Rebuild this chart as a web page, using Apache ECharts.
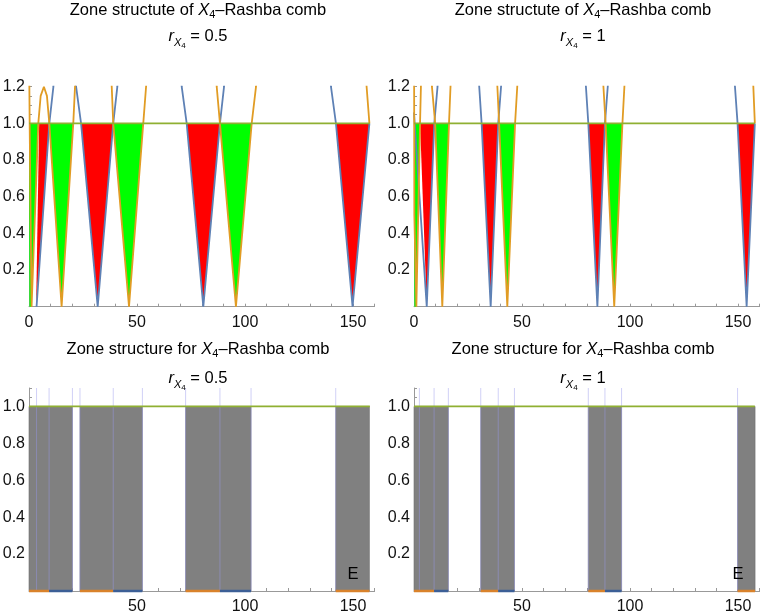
<!DOCTYPE html>
<html lang="en">
<head>
<meta charset="utf-8">
<title>Zone structure of X4-Rashba comb</title>
<script src="https://cdn.jsdelivr.net/npm/echarts@6/dist/echarts.min.js"></script>
<style>
  html, body { margin: 0; padding: 0; background: #fff; }
  #chart { width: 765px; height: 613px; }
</style>
</head>
<body>
<div id="chart"></div>
<script>
// ---------- data ----------
var xMax = 160;

// top left panel, r = 0.5 : curve pieces (blue / orange), filled zones
var blueTL = [
  [[3.5, 0], [9.4, 1], [11.3, 1.2], [11.7, 1.3]],
  [[21.3, 1.3], [21.8, 1.2], [24.1, 1], [31.8, 0], [39.0, 1], [40.9, 1.2], [41.4, 1.3]],
  [[70.2, 1.3], [70.7, 1.2], [73.0, 1], [80.7, 0], [88.4, 1], [90.3, 1.2], [90.8, 1.3]],
  [[139.3, 1.3], [139.8, 1.2], [142.1, 1], [149.8, 0], [157.6, 1]]
];
var orangeTL = [
  [[0.1, 1.3], [0.3, 1], [1.2, 0], [4.3, 1], [5.4, 1.15], [6.9, 1.2], [8.3, 1.15], [9.4, 1], [15.1, 0], [20.5, 1], [21.3, 1.2], [21.6, 1.3]],
  [[37.8, 1.3], [38.3, 1.2], [39.0, 1], [46.3, 0], [52.9, 1], [54.2, 1.2], [54.8, 1.3]],
  [[86.4, 1.3], [86.9, 1.2], [88.4, 1], [95.8, 0], [103.1, 1], [105.1, 1.2], [105.8, 1.3]],
  [[155.8, 1.3], [156.3, 1.2], [157.6, 1]]
];
var redTL = [
  [[4.7, 1], [9.4, 1], [3.3, 0]],
  [[24.1, 1], [39.0, 1], [31.8, 0]],
  [[73.0, 1], [88.4, 1], [80.7, 0]],
  [[142.1, 1], [157.6, 1], [149.8, 0]]
];
var greenTL = [
  [[0, 1], [4.4, 1], [1.2, 0], [0.2, 0]],
  [[9.4, 1], [20.5, 1], [15.1, 0]],
  [[39.0, 1], [52.9, 1], [46.3, 0]],
  [[88.4, 1], [103.1, 1], [95.8, 0]]
];

// top right panel, r = 1
var blueTR = [
  [[0, 1.06], [0.3, 1], [5.9, 0], [9.4, 1], [10.9, 1.2], [11.3, 1.3]],
  [[29.6, 1.3], [30.2, 1.2], [31.3, 1], [35.5, 0], [39.0, 1], [40.3, 1.2], [40.8, 1.3]],
  [[79.1, 1.3], [79.6, 1.2], [80.7, 1], [84.9, 0], [88.4, 1], [89.7, 1.2], [90.2, 1.3]],
  [[148.1, 1.3], [148.6, 1.2], [149.8, 1], [154.0, 0], [157.8, 1]]
];
var orangeTR = [
  [[0.05, 1.3], [0.15, 0.5], [1.1, 0], [2.8, 1], [3.2, 1.2], [3.4, 1.3]],
  [[7.8, 1.3], [8.3, 1.2], [9.8, 1], [13.1, 0], [16.2, 1], [16.9, 1.2], [17.2, 1.3]],
  [[38.1, 1.3], [38.6, 1.2], [39.4, 1], [43.2, 0], [46.8, 1], [47.8, 1.2], [48.2, 1.3]],
  [[87.2, 1.3], [87.7, 1.2], [88.7, 1], [92.7, 0], [96.5, 1], [97.4, 1.2], [97.8, 1.3]],
  [[156.7, 1.3], [157.1, 1.2], [157.8, 1]]
];
var redTR = [
  [[2.8, 1], [9.4, 1], [5.9, 0]],
  [[31.3, 1], [39.0, 1], [35.5, 0]],
  [[80.7, 1], [88.4, 1], [84.9, 0]],
  [[149.8, 1], [157.8, 1], [154.0, 0]]
];
var greenTR = [
  [[0, 1], [2.8, 1], [1.1, 0], [0.2, 0]],
  [[9.8, 1], [16.2, 1], [13.1, 0]],
  [[39.4, 1], [46.8, 1], [43.2, 0]],
  [[88.7, 1], [96.5, 1], [92.7, 0]]
];

// bottom panels: allowed bands, band edges, coloured pieces on the E axis
var bandsBL = [[0, 20.1], [23.6, 52.5], [72.5, 102.8], [142, 157.6]];
var edgesBL = [3.5, 9.3, 20.1, 23.6, 39.0, 52.5, 72.5, 88.4, 102.8, 142];
var orangeBL = [[0, 9.3], [23.6, 39], [72.5, 88.4], [142, 157.6]];
var blueBL = [[9.3, 20.1], [39, 52.5], [88.4, 102.8]];

var bandsBR = [[0, 15.9], [30.9, 46.5], [80.7, 96.1], [149.8, 157.9]];
var edgesBR = [2.5, 9.3, 15.9, 30.9, 39.0, 46.5, 80.7, 88.4, 96.1, 149.8];
var orangeBR = [[0, 9.3], [30.9, 39], [80.7, 88.4], [149.8, 157.9]];
var blueBR = [[9.3, 15.9], [39, 46.5], [88.4, 96.1]];

var levelLine = [[0, 1], [157.8, 1]];

// ---------- styling ----------
var FONT = '"Liberation Sans", Arial, Helvetica, sans-serif';
var C_BLUE = '#5E81B5', C_ORANGE = '#E19C24', C_GREEN = '#8FB032';
var AXIS = '#999';

var chart = echarts.init(document.getElementById('chart'));

function xAxisCfg(idx, showZero) {
  return {
    type: 'value', gridIndex: idx, min: 0, max: xMax, interval: 10,
    axisLine: { show: true, onZero: false, lineStyle: { color: AXIS, width: 1 } },
    axisTick: { show: true, inside: true, length: 3, lineStyle: { color: AXIS } },
    axisLabel: {
      interval: 0, margin: 8, fontSize: 16, color: '#111', fontFamily: FONT,
      formatter: function (v) {
        if (v % 50 !== 0) return '';
        if (!showZero && v === 0) return '';
        return String(v);
      }
    },
    splitLine: { show: false }
  };
}

function yAxisCfg(idx, yMax) {
  return {
    type: 'value', gridIndex: idx, min: 0, max: yMax, interval: 0.05,
    axisLine: { show: true, onZero: false, lineStyle: { color: AXIS, width: 1 } },
    axisTick: { show: true, inside: true, length: 3, lineStyle: { color: AXIS } },
    axisLabel: {
      interval: 0, margin: 4, fontSize: 16, color: '#111', fontFamily: FONT,
      formatter: function (v) {
        var k = Math.round(v / 0.2);
        if (v < 0.01 || Math.abs(v - k * 0.2) > 1e-6) return '';
        return (k * 0.2).toFixed(1);
      }
    },
    splitLine: { show: false }
  };
}

function lines(idx, pieces, color, width, z, clip) {
  return pieces.map(function (pts) {
    return {
      type: 'line', xAxisIndex: idx, yAxisIndex: idx, data: pts,
      symbol: 'none', clip: clip !== false, silent: true, z: z || 3,
      lineStyle: { color: color, width: width }
    };
  });
}

function polys(idx, list, color) {
  return {
    type: 'custom', xAxisIndex: idx, yAxisIndex: idx, silent: true, z: 1,
    data: list.map(function (p) { return [p[0][0], p[0][1]]; }),
    renderItem: function (params, api) {
      var pts = list[params.dataIndex].map(function (p) { return api.coord(p); });
      return { type: 'polygon', shape: { points: pts }, style: { fill: color } };
    }
  };
}

function bands(idx, list) {
  return {
    type: 'custom', xAxisIndex: idx, yAxisIndex: idx, silent: true, z: 1,
    data: list,
    renderItem: function (params, api) {
      var a = api.coord([api.value(0), 1]);
      var b = api.coord([api.value(1), 0]);
      return { type: 'rect', shape: { x: a[0], y: a[1], width: b[0] - a[0], height: b[1] - a[1] },
        style: { fill: '#808080', stroke: '#6f6f6f', lineWidth: 0.6 } };
    }
  };
}

function edges(idx, list, yTop) {
  return {
    type: 'custom', xAxisIndex: idx, yAxisIndex: idx, silent: true, z: 2,
    data: list.map(function (x) { return [x]; }),
    renderItem: function (params, api) {
      var a = api.coord([api.value(0), 0]);
      var b = api.coord([api.value(0), yTop]);
      return { type: 'line', shape: { x1: a[0], y1: a[1], x2: b[0], y2: b[1] },
        style: { stroke: 'rgba(150,150,235,0.45)', lineWidth: 1 } };
    }
  };
}

function axisPieces(idx, list, color) {
  return lines(idx, list.map(function (s) { return [[s[0], 0], [s[1], 0]]; }), color, 2.5, 4, false);
}

var series = [];
// top left
series.push(polys(0, redTL, '#FF0000'), polys(0, greenTL, '#00FF00'));
series = series.concat(lines(0, blueTL, C_BLUE, 1.8), lines(0, orangeTL, C_ORANGE, 1.8), lines(0, [levelLine], C_GREEN, 1.8));
// top right
series.push(polys(1, redTR, '#FF0000'), polys(1, greenTR, '#00FF00'));
series = series.concat(lines(1, blueTR, C_BLUE, 1.8), lines(1, orangeTR, C_ORANGE, 1.8), lines(1, [levelLine], C_GREEN, 1.8));
// bottom left
series.push(bands(2, bandsBL), edges(2, edgesBL, 1.1));
series = series.concat(lines(2, [levelLine], C_GREEN, 1.8), axisPieces(2, orangeBL, '#D9822B'), axisPieces(2, blueBL, '#3C5F96'));
// bottom right
series.push(bands(3, bandsBR), edges(3, edgesBR, 1.1));
series = series.concat(lines(3, [levelLine], C_GREEN, 1.8), axisPieces(3, orangeBR, '#D9822B'), axisPieces(3, blueBR, '#3C5F96'));

function label(x, y, text, rich) {
  return {
    type: 'text', x: x, y: y, silent: true, z: 100,
    style: { text: text, rich: rich || {}, font: '16.5px ' + FONT, fill: '#000',
      align: 'center', verticalAlign: 'middle', textAlign: 'center', textVerticalAlign: 'middle' }
  };
}
var richHead = {
  i: { fontStyle: 'italic', fontSize: 16.5, fontFamily: FONT, color: '#000' },
  s: { fontSize: 11, fontFamily: FONT, color: '#000', padding: [10, 0, 0, 0] }
};
var richR = {
  r: { fontStyle: 'italic', fontSize: 16.5, fontFamily: FONT, color: '#000' },
  x: { fontStyle: 'italic', fontSize: 11, fontFamily: FONT, color: '#000', padding: [13, 0, 0, 0] },
  f: { fontSize: 8, fontFamily: FONT, color: '#000', padding: [19, 0, 0, 0] }
};

var option = {
  backgroundColor: '#fff',
  animation: false,
  grid: [
    { left: 29, top: 86.7, width: 345.6, height: 220, outerBoundsMode: 'none' },
    { left: 414, top: 86.7, width: 345.6, height: 220, outerBoundsMode: 'none' },
    { left: 29, top: 388, width: 345.6, height: 203, outerBoundsMode: 'none' },
    { left: 414, top: 388, width: 345.6, height: 203, outerBoundsMode: 'none' }
  ],
  xAxis: [xAxisCfg(0, true), xAxisCfg(1, true), xAxisCfg(2, false), xAxisCfg(3, false)],
  yAxis: [yAxisCfg(0, 1.2), yAxisCfg(1, 1.2), yAxisCfg(2, 1.1), yAxisCfg(3, 1.1)],
  graphic: [
    label(198, 10, 'Zone structute of {i|X}{s|4}\u2013Rashba comb', richHead),
    label(198, 36.5, '{r|r}{x|X}{f|4} = 0.5', richR),
    label(583, 10, 'Zone structute of {i|X}{s|4}\u2013Rashba comb', richHead),
    label(583, 36.5, '{r|r}{x|X}{f|4} = 1', richR),
    label(198, 349, 'Zone structure for {i|X}{s|4}\u2013Rashba comb', richHead),
    label(198, 378, '{r|r}{x|X}{f|4} = 0.5', richR),
    label(583, 349, 'Zone structure for {i|X}{s|4}\u2013Rashba comb', richHead),
    label(583, 378, '{r|r}{x|X}{f|4} = 1', richR),
    label(353, 574, 'E'),
    label(738, 574, 'E')
  ],
  series: series
};

chart.setOption(option);
</script>
</body>
</html>
